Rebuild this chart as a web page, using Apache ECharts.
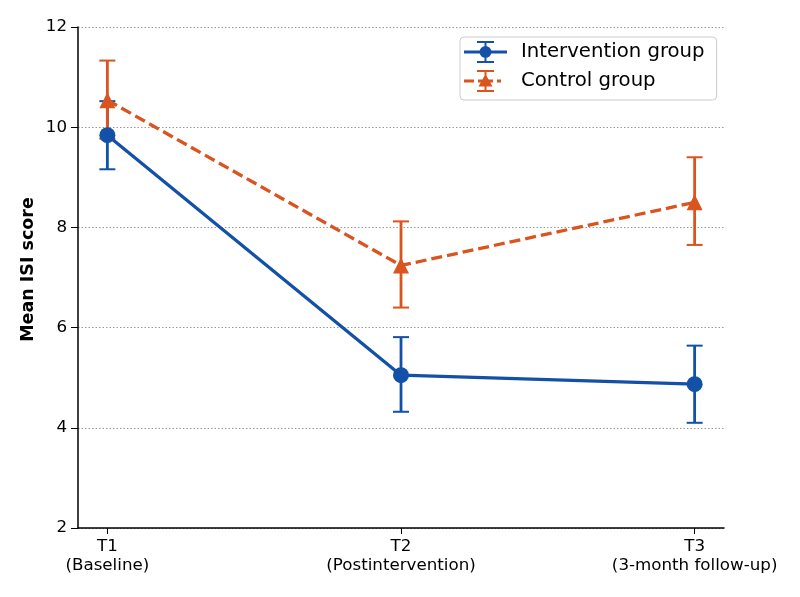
<!DOCTYPE html>
<html>
<head>
<meta charset="utf-8">
<script src="https://cdn.jsdelivr.net/npm/echarts@6/dist/echarts.min.js"></script>
<style>
html,body{margin:0;padding:0;background:#fff;}
#chart{width:800px;height:597px;}
</style>
</head>
<body>
<div id="chart"></div>
<script>
// ---- data ----
const categories = ['T1\n(Baseline)', 'T2\n(Postintervention)', 'T3\n(3-month follow-up)'];
const seriesNames = ['Intervention group', 'Control group'];
const interventionMean = [9.84, 5.05, 4.87];
const interventionLow  = [9.16, 4.32, 4.10];
const interventionHigh = [10.52, 5.81, 5.64];
const controlMean = [10.54, 7.24, 8.50];
const controlLow  = [9.77, 6.40, 7.65];
const controlHigh = [11.33, 8.12, 9.40];
const yTicks = [2, 4, 6, 8, 10, 12];

const BLUE = '#1351A8';
const ORANGE = '#D9541E';

function pts(mean) { return mean.map((v, i) => [i, v]); }
function bars(low, high) { return low.map((v, i) => [i, v, high[i]]); }

function errRender(color) {
  return function (params, api) {
    const x = api.value(0);
    const lo = api.coord([x, api.value(1)]);
    const hi = api.coord([x, api.value(2)]);
    const cw = 8;
    return {
      type: 'group',
      children: [
        { type: 'line', shape: { x1: lo[0], y1: lo[1], x2: hi[0], y2: hi[1] }, style: { stroke: color, lineWidth: 2.8 } },
        { type: 'line', shape: { x1: lo[0] - cw, y1: lo[1], x2: lo[0] + cw, y2: lo[1] }, style: { stroke: color, lineWidth: 2 } },
        { type: 'line', shape: { x1: hi[0] - cw, y1: hi[1], x2: hi[0] + cw, y2: hi[1] }, style: { stroke: color, lineWidth: 2 } }
      ]
    };
  };
}

const iconBlue = 'path://M0 9.5 H43 V12.5 H0 Z M20.5 1 H22.5 V21 H20.5 Z M13 0 H30 V2 H13 Z M13 20 H30 V22 H13 Z M27.5 11 A6 6 0 1 1 15.5 11 A6 6 0 1 1 27.5 11 Z M51.9 11 H52 V11.1 H51.9 Z';
const iconOrange = 'path://M0 9.5 H10 V12.5 H0 Z M14 9.5 H29 V12.5 H14 Z M33 9.5 H37 V12.5 H33 Z M20.5 1 H22.5 V21 H20.5 Z M13 0 H30 V2 H13 Z M13 20 H30 V22 H13 Z M21.5 4 L28.5 16.5 L14.5 16.5 Z M51.9 11 H52 V11.1 H51.9 Z';

const chart = echarts.init(document.getElementById('chart'), null, { renderer: 'canvas' });
chart.setOption({
  backgroundColor: '#ffffff',
  animation: false,
  textStyle: { fontFamily: 'DejaVu Sans' },
  grid: { left: 78, right: 76, top: 27, bottom: 69, containLabel: false },
  legend: {
    left: 460, top: 37,
    orient: 'vertical',
    padding: [4, 12, 8, 4],
    itemWidth: 52, itemHeight: 22, itemGap: 7,
    borderColor: '#cccccc', borderWidth: 1, borderRadius: 4,
    backgroundColor: '#ffffff',
    textStyle: { fontSize: 19.7, color: '#000', fontFamily: 'DejaVu Sans', lineHeight: 22 },
    itemStyle: { borderWidth: 0 },
    data: [
      { name: seriesNames[0], icon: iconBlue },
      { name: seriesNames[1], icon: iconOrange }
    ]
  },
  xAxis: {
    type: 'value', min: -0.1, max: 2.1,
    splitLine: { show: false },
    axisLine: { show: true, onZero: false, lineStyle: { color: '#000', width: 1.5 } },
    axisTick: { show: true, length: 6, lineStyle: { color: '#000', width: 1 }, customValues: [0, 1, 2] },
    axisLabel: {
      customValues: [0, 1, 2],
      formatter: v => categories[Math.round(v)],
      fontSize: 16.7, color: '#000', lineHeight: 19, margin: 9,
      fontFamily: 'DejaVu Sans'
    }
  },
  yAxis: {
    type: 'value', min: 2, max: 12, interval: 2,
    name: 'Mean ISI score', nameLocation: 'middle', nameGap: 41, nameMoveOverlap: false,
    nameTextStyle: { fontSize: 17.5, fontWeight: 'bold', color: '#000', fontFamily: 'DejaVu Sans', padding: [0, 0, 0, 16] },
    axisLine: { show: true, onZero: false, lineStyle: { color: '#000', width: 1.5 } },
    axisTick: { show: true, length: 7, lineStyle: { color: '#000', width: 1 } },
    axisLabel: { fontSize: 16.7, color: '#000', margin: 11, fontFamily: 'DejaVu Sans',
      formatter: v => (yTicks.indexOf(v) >= 0 ? String(v) : '') },
    splitLine: { show: true, lineStyle: { color: '#999', width: 1, type: [1.5, 2] } }
  },
  series: [
    { name: 'ie', type: 'custom', renderItem: errRender(BLUE), data: bars(interventionLow, interventionHigh), z: 1, silent: true },
    { name: 'ce', type: 'custom', renderItem: errRender(ORANGE), data: bars(controlLow, controlHigh), z: 1, silent: true },
    {
      name: seriesNames[0], type: 'line', data: pts(interventionMean), z: 3,
      color: BLUE,
      symbol: 'circle', symbolSize: 16,
      lineStyle: { color: BLUE, width: 3.3 },
      itemStyle: { color: BLUE, borderWidth: 0 }
    },
    {
      name: seriesNames[1], type: 'line', data: pts(controlMean), z: 4,
      color: ORANGE,
      symbol: 'triangle', symbolSize: 16,
      lineStyle: { color: ORANGE, width: 3.3, type: [11, 5] },
      itemStyle: { color: ORANGE, borderWidth: 0 }
    }
  ]
});
</script>
</body>
</html>
